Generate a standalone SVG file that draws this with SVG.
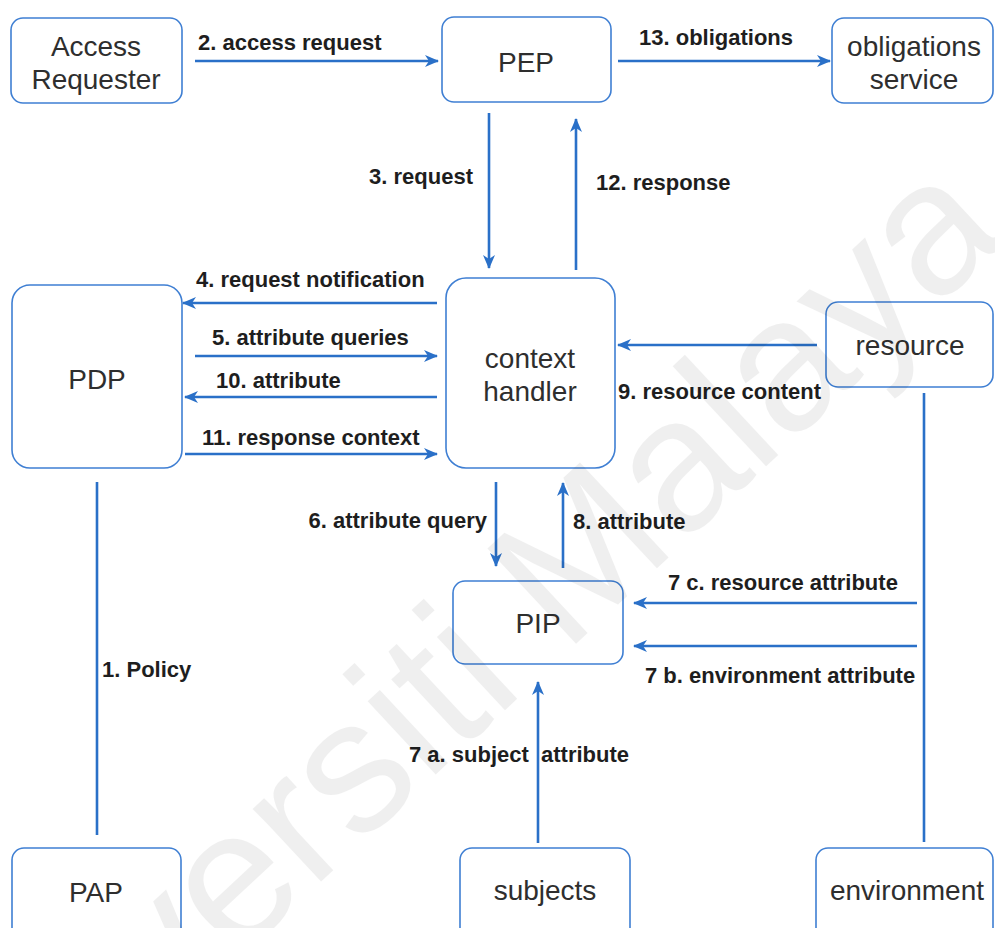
<svg xmlns="http://www.w3.org/2000/svg" width="995" height="928" viewBox="0 0 995 928">
  <style>
    .node rect { fill: #ffffff; stroke: #3f7fd3; stroke-width: 1.6; }
    .node text { font-family: "Liberation Sans", Arial, sans-serif; font-size: 28px; fill: #2e2e2e; text-anchor: middle; }
    .edge { stroke: #2a70c8; stroke-width: 2.6; fill: none; }
    .arrow { marker-end: url(#head); }
    .lbl { font-family: "Liberation Sans", Arial, sans-serif; font-size: 22px; font-weight: bold; fill: #1e1e1e; white-space: pre; }
    .wm { font-family: "Liberation Sans", Arial, sans-serif; font-size: 189px; fill: #000000; opacity: 0.06; }
  </style>
  <defs>
    <marker id="head" viewBox="0 0 14 12" refX="13" refY="6" markerWidth="14" markerHeight="12" markerUnits="userSpaceOnUse" orient="auto">
      <path d="M0,0 L14,6 L0,12 L4,6 Z" fill="#2a70c8"/>
    </marker>
  </defs>

  <rect width="995" height="928" fill="#ffffff"/>

  <!-- nodes -->
  <g id="access-requester" class="node">
    <rect x="11" y="18" width="171" height="85" rx="12"/>
    <text x="96" y="56">Access</text>
    <text x="96" y="89">Requester</text>
  </g>
  <g id="pep" class="node">
    <rect x="442" y="17" width="169" height="85" rx="12"/>
    <text x="526" y="72">PEP</text>
  </g>
  <g id="obligations-service" class="node">
    <rect x="832" y="18" width="161" height="85" rx="12"/>
    <text x="914" y="56">obligations</text>
    <text x="914" y="89">service</text>
  </g>
  <g id="pdp" class="node">
    <rect x="12" y="285" width="170" height="183" rx="18"/>
    <text x="97" y="389">PDP</text>
  </g>
  <g id="context-handler" class="node">
    <rect x="446" y="278" width="169" height="190" rx="20"/>
    <text x="530" y="368">context</text>
    <text x="530" y="401">handler</text>
  </g>
  <g id="resource" class="node">
    <rect x="826" y="302" width="167" height="85" rx="12"/>
    <text x="910" y="355">resource</text>
  </g>
  <g id="pip" class="node">
    <rect x="453" y="581" width="170" height="83" rx="12"/>
    <text x="538" y="633">PIP</text>
  </g>
  <g id="pap" class="node">
    <rect x="12" y="848" width="169" height="95" rx="12"/>
    <text x="96" y="902">PAP</text>
  </g>
  <g id="subjects" class="node">
    <rect x="460" y="848" width="170" height="95" rx="12"/>
    <text x="545" y="900">subjects</text>
  </g>
  <g id="environment" class="node">
    <rect x="816" y="848" width="177" height="95" rx="12"/>
    <text x="907" y="900">environment</text>
  </g>

  <!-- connectors -->
  <g id="connectors">
    <line class="edge arrow" x1="195" y1="61" x2="438" y2="61"/>
    <line class="edge arrow" x1="618" y1="61" x2="830" y2="61"/>
    <line class="edge arrow" x1="489" y1="113" x2="489" y2="268"/>
    <line class="edge arrow" x1="576" y1="270" x2="576" y2="119"/>
    <line class="edge arrow" x1="437" y1="303" x2="183" y2="303"/>
    <line class="edge arrow" x1="195" y1="356" x2="437" y2="356"/>
    <line class="edge arrow" x1="437" y1="397" x2="185" y2="397"/>
    <line class="edge arrow" x1="185" y1="454" x2="437" y2="454"/>
    <line class="edge arrow" x1="817" y1="345" x2="618" y2="345"/>
    <line class="edge arrow" x1="496" y1="482" x2="496" y2="566"/>
    <line class="edge arrow" x1="563" y1="568" x2="563" y2="483"/>
    <line class="edge arrow" x1="917" y1="603" x2="634" y2="603"/>
    <line class="edge arrow" x1="917" y1="646" x2="634" y2="646"/>
    <line class="edge arrow" x1="538" y1="843" x2="538" y2="682"/>
    <line class="edge" x1="97" y1="482" x2="97" y2="835"/>
    <line class="edge" x1="924" y1="393" x2="924" y2="842"/>

    <text class="lbl" x="198" y="50">2. access request</text>
    <text class="lbl" x="639" y="45">13. obligations</text>
    <text class="lbl" x="473" y="184" text-anchor="end">3. request</text>
    <text class="lbl" x="596" y="190">12. response</text>
    <text class="lbl" x="196" y="287">4. request notification</text>
    <text class="lbl" x="212" y="345">5. attribute queries</text>
    <text class="lbl" x="216" y="388">10. attribute</text>
    <text class="lbl" x="202" y="445">11. response context</text>
    <text class="lbl" x="618" y="399">9. resource content</text>
    <text class="lbl" x="487" y="528" text-anchor="end">6. attribute query</text>
    <text class="lbl" x="573" y="529">8. attribute</text>
    <text class="lbl" x="668" y="590">7 c. resource attribute</text>
    <text class="lbl" x="645" y="683">7 b. environment attribute</text>
    <text class="lbl" x="102" y="677">1. Policy</text>
    <text class="lbl" x="409" y="762" xml:space="preserve">7 a. subject  attribute</text>
  </g>

  <!-- faint diagonal repository mark -->
  <text class="wm" x="0" y="0" transform="translate(-42 1220) rotate(-43)">Universiti Malaya</text>
</svg>
